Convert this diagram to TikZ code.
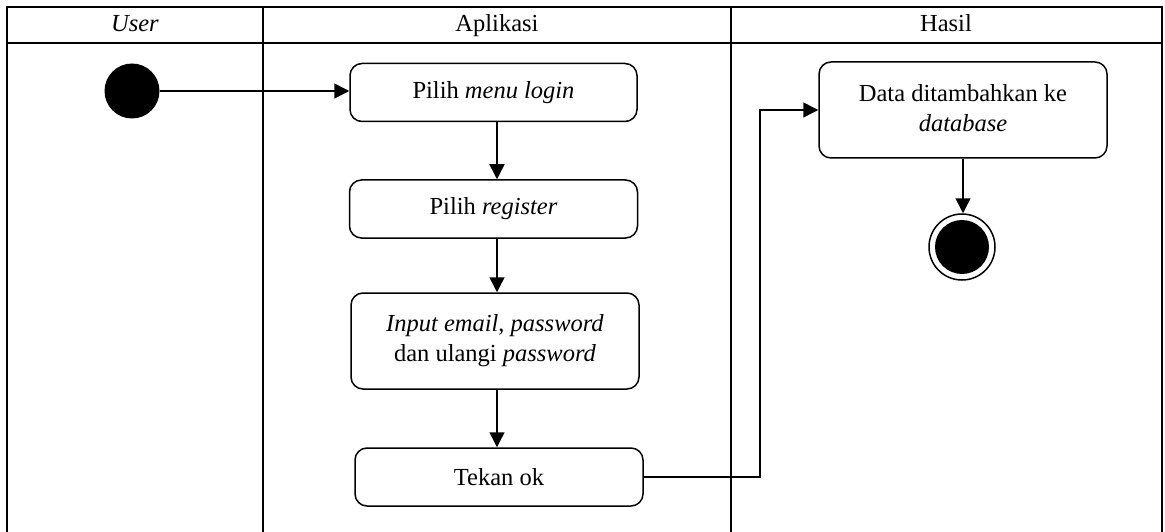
\documentclass[tikz,border=0pt]{standalone}
\usepackage{fontspec}
\setmainfont{Liberation Serif}
\usetikzlibrary{arrows.meta}

\tikzset{
  grid line/.style={line width=2pt, line cap=rect},
  action/.style={draw, line width=1.5pt, rounded corners=12pt, align=center,
    inner sep=0pt, font=\fontsize{24.5}{30}\selectfont},
  flow/.style={line width=1.5pt, -{Triangle[length=15pt,width=15pt]}},
  label text/.style={font=\fontsize{24.5}{30}\selectfont, anchor=base},
}

\begin{document}
\begin{tikzpicture}[x=1pt, y=-1pt]
  \useasboundingbox (0,0) rectangle (1165,532);

  % swimlane table
  \draw[grid line] (7,532) -- (7,7) -- (1162,7) -- (1162,532);
  \draw[grid line] (7,43) -- (1162,43);
  \draw[grid line] (263,7) -- (263,532);
  \draw[grid line] (731,7) -- (731,532);

  \node[label text] (hUser) at (135,32) {\textit{User}};
  \node[label text] (hApp)  at (497,32) {Aplikasi};
  \node[label text] (hRes)  at (946,32) {Hasil};

  % initial node
  \node[circle, fill=black, minimum size=55pt, inner sep=0pt] (start) at (132,91) {};

  % actions
  \node[action, minimum width=287pt, minimum height=58pt] (b1) at (493.5,92.5)
    {Pilih \textit{menu login}};
  \node[action, minimum width=288pt, minimum height=58pt] (b2) at (493.5,209)
    {Pilih \textit{register}};
  \node[action, minimum width=288pt, minimum height=96pt] (b3) at (495,341)
    {\textit{Input email}, \textit{password}\\dan ulangi \textit{password}};
  \node[action, minimum width=288pt, minimum height=58pt] (b4) at (499,477)
    {Tekan ok};
  \node[action, minimum width=288pt, minimum height=96pt, text depth=0pt] (b5) at (963,110)
    {\raisebox{22pt}{\begin{tabular}{@{}c@{}}Data ditambahkan ke\\\textit{database}\end{tabular}}};

  % final node
  \node[circle, draw, line width=1.5pt, minimum size=66pt, inner sep=0pt] (final) at (962,247) {};
  \node[circle, fill=black, minimum size=54pt, inner sep=0pt] (finalDot) at (final.center) {};

  % flows
  \coordinate (laneX) at (497,0);
  \coordinate (elbow) at (760,0);
  \draw[flow] (start.east) -- (start.east -| b1.west);
  \draw[flow] (laneX |- b1.south) -- (laneX |- b2.north);
  \draw[flow] (laneX |- b2.south) -- (laneX |- b3.north);
  \draw[flow] (laneX |- b3.south) -- (laneX |- b4.north);
  \draw[flow] (b4.east) -- (b4.east -| elbow) -- (elbow |- b5.west) -- (b5.west);
  \draw[flow] (b5.south) -- (b5.south |- final.north);
\end{tikzpicture}
\end{document}
